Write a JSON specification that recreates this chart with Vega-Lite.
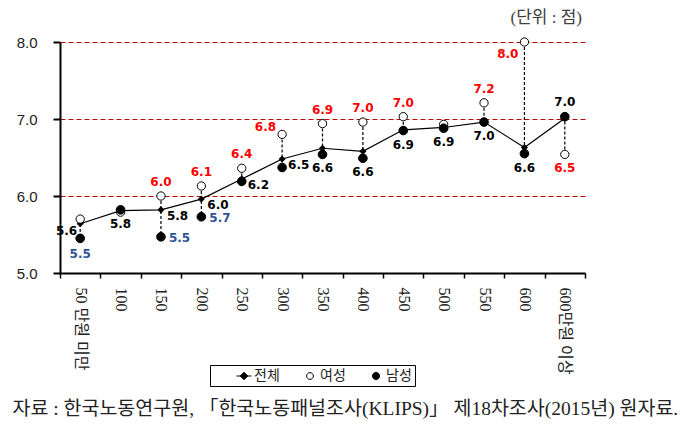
{
  "$schema": "https://vega.github.io/schema/vega-lite/v6.json",
  "width": 525,
  "height": 231,
  "autosize": "none",
  "padding": {"left": 60, "top": 42, "right": 112, "bottom": 156},
  "background": "white",
  "config": {
    "view": {"stroke": null},
    "legend": {"strokeWidth": 1},
    "text": {"font": "DejaVu Sans", "fontWeight": "bold", "fontSize": 12}
  },
  "title": {
    "text": "(단위 : 점)",
    "anchor": "end",
    "frame": "group",
    "orient": "top",
    "baseline": "bottom",
    "offset": -9,
    "dx": -3,
    "font": "Liberation Serif, Noto Sans CJK KR",
    "fontSize": 17,
    "fontWeight": "normal",
    "color": "#404040"
  },
  "data": {
    "values": [
      {"구간": "50 만원 미만", "전체": 5.64, "여성": 5.70, "남성": 5.45},
      {"구간": "100", "전체": 5.81, "여성": 5.79, "남성": 5.82},
      {"구간": "150", "전체": 5.82, "여성": 6.00, "남성": 5.47},
      {"구간": "200", "전체": 5.96, "여성": 6.13, "남성": 5.73},
      {"구간": "250", "전체": 6.22, "여성": 6.36, "남성": 6.19},
      {"구간": "300", "전체": 6.48, "여성": 6.80, "남성": 6.37},
      {"구간": "350", "전체": 6.62, "여성": 6.94, "남성": 6.54},
      {"구간": "400", "전체": 6.58, "여성": 6.96, "남성": 6.49},
      {"구간": "450", "전체": 6.86, "여성": 7.03, "남성": 6.85},
      {"구간": "500", "전체": 6.89, "여성": 6.93, "남성": 6.88},
      {"구간": "550", "전체": 6.96, "여성": 7.21, "남성": 6.96},
      {"구간": "600", "전체": 6.63, "여성": 8.00, "남성": 6.55},
      {"구간": "600만원 이상", "전체": 7.01, "여성": 6.54, "남성": 7.03}
    ]
  },
  "encoding": {
    "x": {
      "field": "구간",
      "type": "nominal",
      "sort": null,
      "scale": {"type": "band", "paddingInner": 0, "paddingOuter": 0},
      "axis": {
        "title": "자료 : 한국노동연구원, 「한국노동패널조사(KLIPS)」 제18차조사(2015년) 원자료.",
        "titleX": -48,
        "titleY": 135,
        "titleAlign": "left",
        "titleAnchor": "start",
        "titleBaseline": "middle",
        "titleAngle": 0,
        "titleFont": "Liberation Serif, Noto Sans CJK KR",
        "titleFontSize": 19.5,
        "titleFontWeight": "normal",
        "titleColor": "#222222",
        "domainColor": "black",
        "domainWidth": 2,
        "tickColor": "black",
        "tickSize": 5,
        "tickWidth": 1.5,
        "tickBand": "extent",
        "labelAngle": 90,
        "labelAlign": "left",
        "labelBaseline": "middle",
        "labelPadding": 9,
        "labelFont": "Liberation Serif, Noto Sans CJK KR",
        "labelFontSize": 16,
        "labelColor": "#222222",
        "labelLimit": 300,
        "grid": false,
        "zindex": 2
      }
    }
  },
  "layer": [
    {
      "mark": {"type": "rule", "color": "black", "strokeWidth": 1.2, "strokeDash": [3, 2]},
      "encoding": {
        "y": {
          "field": "여성",
          "type": "quantitative",
          "title": null,
          "scale": {"domain": [5, 8], "nice": false, "zero": false},
          "axis": {
            "values": [5, 6, 7, 8],
            "format": ".1f",
            "domainColor": "black",
            "domainWidth": 2,
            "tickColor": "black",
            "tickSize": 7,
            "tickWidth": 2,
            "labelPadding": 16,
            "labelFont": "Liberation Sans",
            "labelFontSize": 15,
            "labelColor": "#222222",
            "grid": true,
            "gridColor": "#C00000",
            "gridDash": [5, 3],
            "gridWidth": 1.2
          }
        },
        "y2": {"field": "남성"}
      }
    },
    {
      "mark": {"type": "line", "color": "black", "strokeWidth": 1.2},
      "encoding": {"y": {"field": "전체", "type": "quantitative", "title": null}}
    },
    {
      "mark": {"type": "point", "shape": "diamond", "filled": true, "color": "black", "opacity": 1, "size": 50},
      "encoding": {"y": {"field": "전체", "type": "quantitative", "title": null}}
    },
    {
      "transform": [{"fold": ["여성", "남성"], "as": ["series", "value"]}],
      "mark": {"type": "point", "filled": true, "opacity": 1, "strokeWidth": 1, "size": 340},
      "encoding": {
        "y": {"field": "value", "type": "quantitative", "title": null},
        "shape": {
          "field": "series",
          "type": "nominal",
          "scale": {
            "domain": ["전체", "여성", "남성"],
            "range": [
              "M-1,0H1M0,-0.5L0.5,0L0,0.5L-0.5,0Z",
              "M-0.45,0A0.45,0.45 0 1,1 0.45,0A0.45,0.45 0 1,1 -0.45,0Z",
              "M-0.47,0A0.47,0.47 0 1,1 0.47,0A0.47,0.47 0 1,1 -0.47,0Z"
            ]
          },
          "legend": {
            "orient": "none",
            "legendX": 150,
            "legendY": 323,
            "direction": "horizontal",
            "title": "000",
            "titleColor": "white",
            "titleFont": "DejaVu Sans",
            "titleOrient": "left",
            "titleFontSize": 10,
            "titlePadding": 2,
            "padding": 3,
            "strokeColor": "black",
            "columnPadding": 22,
            "symbolSize": 225,
            "symbolStrokeWidth": 1,
            "symbolOpacity": 1,
            "labelFont": "Noto Sans CJK KR",
            "labelFontSize": 14,
            "labelColor": "#222222",
            "labelOffset": 2
          }
        },
        "fill": {
          "field": "series",
          "type": "nominal",
          "scale": {"domain": ["전체", "여성", "남성"], "range": ["black", "white", "black"]},
          "legend": {
            "orient": "none",
            "legendX": 150,
            "legendY": 323,
            "direction": "horizontal",
            "title": "000",
            "titleColor": "white",
            "titleFont": "DejaVu Sans",
            "titleOrient": "left",
            "titleFontSize": 10,
            "titlePadding": 2,
            "padding": 3,
            "strokeColor": "black",
            "columnPadding": 22,
            "symbolSize": 225,
            "symbolStrokeWidth": 1,
            "symbolOpacity": 1,
            "labelFont": "Noto Sans CJK KR",
            "labelFontSize": 14,
            "labelColor": "#222222",
            "labelOffset": 2
          }
        },
        "stroke": {
          "field": "series",
          "type": "nominal",
          "scale": {"domain": ["전체", "여성", "남성"], "range": ["black", "black", "black"]},
          "legend": {
            "orient": "none",
            "legendX": 150,
            "legendY": 323,
            "direction": "horizontal",
            "title": "000",
            "titleColor": "white",
            "titleFont": "DejaVu Sans",
            "titleOrient": "left",
            "titleFontSize": 10,
            "titlePadding": 2,
            "padding": 3,
            "strokeColor": "black",
            "columnPadding": 22,
            "symbolSize": 225,
            "symbolStrokeWidth": 1,
            "symbolOpacity": 1,
            "labelFont": "Noto Sans CJK KR",
            "labelFontSize": 14,
            "labelColor": "#222222",
            "labelOffset": 2
          }
        }
      }
    },
    {
      "transform": [{"filter": {"field": "구간", "oneOf": ["50 만원 미만"]}}],
      "mark": {"type": "text", "align": "right", "dx": -3, "dy": 7, "color": "black"},
      "encoding": {
        "y": {"field": "전체", "type": "quantitative", "title": null},
        "text": {"field": "전체", "type": "quantitative", "format": ".1f"}
      }
    },
    {
      "transform": [{"filter": {"field": "구간", "oneOf": ["100", "350", "400", "450", "500", "550", "600"]}}],
      "mark": {"type": "text", "align": "center", "dy": 14, "color": "black"},
      "encoding": {
        "y": {"field": "남성", "type": "quantitative", "title": null},
        "text": {"field": "전체", "type": "quantitative", "format": ".1f"}
      }
    },
    {
      "transform": [{"filter": {"field": "구간", "oneOf": ["150", "200", "250", "300"]}}],
      "mark": {"type": "text", "align": "left", "dx": 6, "dy": 6, "color": "black"},
      "encoding": {
        "y": {"field": "전체", "type": "quantitative", "title": null},
        "text": {"field": "전체", "type": "quantitative", "format": ".1f"}
      }
    },
    {
      "transform": [{"filter": {"field": "구간", "oneOf": ["600만원 이상"]}}],
      "mark": {"type": "text", "align": "center", "dy": -15, "color": "black"},
      "encoding": {
        "y": {"field": "남성", "type": "quantitative", "title": null},
        "text": {"field": "전체", "type": "quantitative", "format": ".1f"}
      }
    },
    {
      "transform": [{"filter": {"field": "구간", "oneOf": ["150", "200", "250", "350", "400", "450", "550"]}}],
      "mark": {"type": "text", "align": "center", "dy": -14, "color": "#FF0000"},
      "encoding": {
        "y": {"field": "여성", "type": "quantitative", "title": null},
        "text": {"field": "여성", "type": "quantitative", "format": ".1f"}
      }
    },
    {
      "transform": [{"filter": {"field": "구간", "oneOf": ["300"]}}],
      "mark": {"type": "text", "align": "right", "dx": -6, "dy": -7, "color": "#FF0000"},
      "encoding": {
        "y": {"field": "여성", "type": "quantitative", "title": null},
        "text": {"field": "여성", "type": "quantitative", "format": ".1f"}
      }
    },
    {
      "transform": [{"filter": {"field": "구간", "oneOf": ["600"]}}],
      "mark": {"type": "text", "align": "right", "dx": -6, "dy": 12, "color": "#FF0000"},
      "encoding": {
        "y": {"field": "여성", "type": "quantitative", "title": null},
        "text": {"field": "여성", "type": "quantitative", "format": ".1f"}
      }
    },
    {
      "transform": [{"filter": {"field": "구간", "oneOf": ["600만원 이상"]}}],
      "mark": {"type": "text", "align": "center", "dy": 14, "color": "#FF0000"},
      "encoding": {
        "y": {"field": "여성", "type": "quantitative", "title": null},
        "text": {"field": "여성", "type": "quantitative", "format": ".1f"}
      }
    },
    {
      "transform": [{"filter": {"field": "구간", "oneOf": ["50 만원 미만"]}}],
      "mark": {"type": "text", "align": "center", "dy": 16, "color": "#2E5597"},
      "encoding": {
        "y": {"field": "남성", "type": "quantitative", "title": null},
        "text": {"field": "남성", "type": "quantitative", "format": ".1f"}
      }
    },
    {
      "transform": [{"filter": {"field": "구간", "oneOf": ["150", "200"]}}],
      "mark": {"type": "text", "align": "left", "dx": 8, "dy": 1, "color": "#2E5597"},
      "encoding": {
        "y": {"field": "남성", "type": "quantitative", "title": null},
        "text": {"field": "남성", "type": "quantitative", "format": ".1f"}
      }
    }
  ]
}
